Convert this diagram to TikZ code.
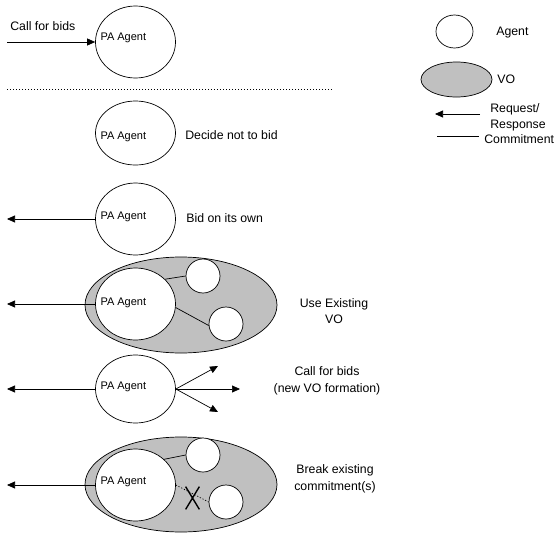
\documentclass[tikz,border=0pt]{standalone}
\usepackage{fontspec}
\setmainfont{Liberation Sans}
\usetikzlibrary{arrows.meta,shapes.geometric}
\definecolor{vogray}{RGB}{192,192,192}

\begin{document}
\begin{tikzpicture}[x=1pt,y=-1pt,line width=0.7pt,>={Triangle[length=8pt,width=7pt]},
  agent/.style={draw,ellipse,fill=white,inner sep=0pt,minimum width=80pt,minimum height=72pt},
  member/.style={draw,circle,fill=white,inner sep=0pt,minimum size=34pt},
  vo/.style={draw,ellipse,fill=vogray,inner sep=0pt,minimum width=192pt,minimum height=96pt},
  txt/.style={inner sep=0pt,font=\fontsize{12.3}{16.5}\selectfont},
  patxt/.style={inner sep=0pt,anchor=west,font=\fontsize{11}{12}\selectfont},
  dots/.style={dash pattern=on 1.2pt off 1.8pt}]
\useasboundingbox (0,0) rectangle (555,533);
% incoming call
\node[agent] (pa1) at (135.5,42) {};
\coordinate (in1) at (7,42);
\draw[->] (in1) -- (pa1.west);
\node[txt,anchor=west] (callin) at (10,26) {Call for bids};
\coordinate (sepl) at (7,89); \coordinate (sepr) at (333,89);
\draw[dots] (sepl) -- (sepr);
% the five answers
\node[agent,minimum height=64pt] (pa2) at (135.5,133) {};
\node[txt,anchor=west] (nobid) at (185,135) {Decide not to bid};
\node[agent] (pa3) at (135.5,219) {};
\node[txt,anchor=west] (ownbid) at (186,218) {Bid on its own};
\node[vo] (vo1) at (181,305) {};
\node[agent] (pa4) at (135.5,304) {};
\node[member] (m1a) at (203,276) {};
\node[member] (m1b) at (226,324) {};
\draw (pa4.40) -- (m1a.west) (pa4.-5) -- (m1b.185);
\node[txt,align=center] (usevo) at (334,311) {Use Existing\\VO};
\node[agent,minimum height=68pt] (pa5) at (135.5,389) {};
\coordinate (c1) at (218,366); \coordinate (c2) at (240,389); \coordinate (c3) at (218,412);
\foreach \c in {c1,c2,c3} \draw[->] (pa5.east) -- (\c);
\node[txt,align=center] (newvo) at (327,381) {Call for bids\\(new VO formation)};
\node[vo,minimum height=95pt] (vo2) at (181,484.5) {};
\node[agent] (pa6) at (135.5,485) {};
\node[member] (m2a) at (203,455) {};
\node[member] (m2b) at (226,502) {};
\draw (pa6.42) -- (m2a.west);
\draw[dots] (pa6.east) -- (m2b.west);
\node[inner sep=0pt,minimum width=13pt,minimum height=22pt] (cut) at (192.5,498) {};
\draw[line width=1.4pt] (cut.north west) -- (cut.south east) (cut.north east) -- (cut.south west);
\node[txt,align=center] (breakvo) at (335,479) {Break existing\\commitment(s)};
\foreach \n/\y in {pa3/219,pa4/304,pa5/389,pa6/485}{
  \coordinate (out-\n) at (7,\y);
  \draw[->] (\n.west) -- (out-\n);}
\foreach \n/\dy in {pa1/4,pa2/-4,pa3/2,pa4/1,pa5/2,pa6/3}
  \node[patxt] at ([xshift=5pt,yshift=\dy pt]\n.west) {PA Agent};
% legend
\node[member,minimum width=37pt,minimum height=33pt,ellipse] (legagent) at (454.5,31.5) {};
\node[txt,anchor=west] (legagenttxt) at (496,33) {Agent};
\node[vo,minimum width=71pt,minimum height=35pt] (legvo) at (456.5,79.5) {};
\node[txt,anchor=west] (legvotxt) at (497,79) {VO};
\coordinate (reqa) at (480,114); \coordinate (reqb) at (435,114);
\draw[->] (reqa) -- (reqb);
\node[txt,anchor=west,align=left] (legreq) at (490,117.5) {Request/\\Response};
\coordinate (coma) at (437,136); \coordinate (comb) at (479,136);
\draw (coma) -- (comb);
\node[txt,anchor=west] (legcom) at (484,139) {Commitment};
\end{tikzpicture}
\end{document}
